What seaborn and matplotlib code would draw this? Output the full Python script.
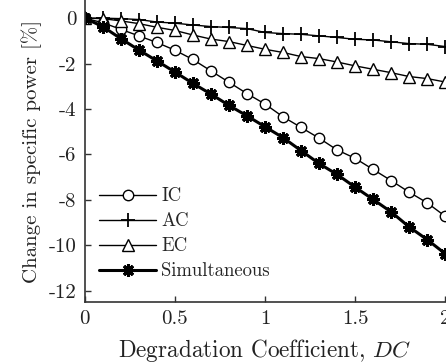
import matplotlib
matplotlib.use("Agg")
import matplotlib.pyplot as plt
import seaborn as sns
import numpy as np
import pandas as pd

dc = [0.0, 0.1, 0.2, 0.3, 0.4, 0.5, 0.6, 0.7, 0.8, 0.9, 1.0,
      1.1, 1.2, 1.3, 1.4, 1.5, 1.6, 1.7, 1.8, 1.9, 2.0]
ic = [0.0, -0.2, -0.49, -0.78, -1.07, -1.41, -1.82, -2.32, -2.82, -3.32, -3.78,
      -4.34, -4.81, -5.28, -5.8, -6.17, -6.66, -7.15, -7.66, -8.13, -8.72]
ac = [0.0, 0.0, -0.02, -0.06, -0.17, -0.22, -0.3, -0.37, -0.41, -0.46, -0.63,
      -0.68, -0.71, -0.78, -0.85, -0.93, -0.96, -1.04, -1.12, -1.15, -1.25]
ec = [0.0, -0.02, -0.12, -0.24, -0.4, -0.54, -0.74, -0.92, -1.03, -1.2, -1.37,
      -1.51, -1.69, -1.78, -1.93, -2.1, -2.25, -2.4, -2.57, -2.66, -2.81]
sim = [0.0, -0.37, -0.9, -1.4, -1.88, -2.37, -2.87, -3.34, -3.84, -4.3, -4.78,
       -5.26, -5.83, -6.4, -6.88, -7.44, -7.98, -8.53, -9.19, -9.75, -10.37]
series_names = ["IC", "AC", "EC", "Simultaneous"]
xticks = [0, 0.5, 1, 1.5, 2]
xtick_labels = ["0", "0.5", "1", "1.5", "2"]
yticks = [0, -2, -4, -6, -8, -10, -12]
ytick_labels = ["0", "-2", "-4", "-6", "-8", "-10", "-12"]

sns.set_style("ticks")
plt.rcParams["font.family"] = ["cmr10", "DejaVu Serif"]
plt.rcParams["mathtext.fontset"] = "cm"
plt.rcParams["axes.unicode_minus"] = False

df = pd.DataFrame({"DC": dc, "IC": ic, "AC": ac, "EC": ec, "Simultaneous": sim})

fig = plt.figure(figsize=(4.46, 3.63), dpi=100)
ax = fig.add_axes([0.19, 0.168, 0.808, 0.832])

styles = {
    "IC": dict(marker="o", markersize=7.5, linewidth=1.0, markerfacecolor="white",
               markeredgecolor="black", markeredgewidth=1.0),
    "AC": dict(marker="+", markersize=10, linewidth=1.0, markeredgecolor="black",
               markeredgewidth=1.3),
    "EC": dict(marker="^", markersize=8, linewidth=1.0, markerfacecolor="white",
               markeredgecolor="black", markeredgewidth=1.0),
    "Simultaneous": dict(marker=(8, 2, 0), markersize=9, linewidth=2.2,
                         markeredgecolor="black", markeredgewidth=2.2),
}
for name in series_names:
    sns.lineplot(data=df, x="DC", y=name, ax=ax, color="black", label=name,
                 **styles[name])

ax.set_xlim(0, 2)
ax.set_ylim(-12.5, 0.8)
ax.set_xticks(xticks)
ax.set_xticklabels(xtick_labels)
ax.set_yticks(yticks)
ax.set_yticklabels(ytick_labels)
ax.tick_params(direction="in", length=4, width=1, labelsize=15, colors="#333333",
               labelcolor="#222222", pad=6)
for s in ["top", "right"]:
    ax.spines[s].set_visible(False)
for s in ["left", "bottom"]:
    ax.spines[s].set_color("#333333")
    ax.spines[s].set_linewidth(1.2)

ax.set_xlabel("Degradation Coefficient, $DC$", fontsize=16.7, color="#222222", labelpad=6)
ax.set_ylabel("Change in specific power [%]", fontsize=15, color="#222222", labelpad=5)

leg = ax.legend(loc="upper left", bbox_to_anchor=(0.02, 0.405), frameon=False,
                handlelength=3.0, handletextpad=0.3, labelspacing=0.38, fontsize=13.5,
                borderaxespad=0)

fig.savefig("out.png", dpi=100)
